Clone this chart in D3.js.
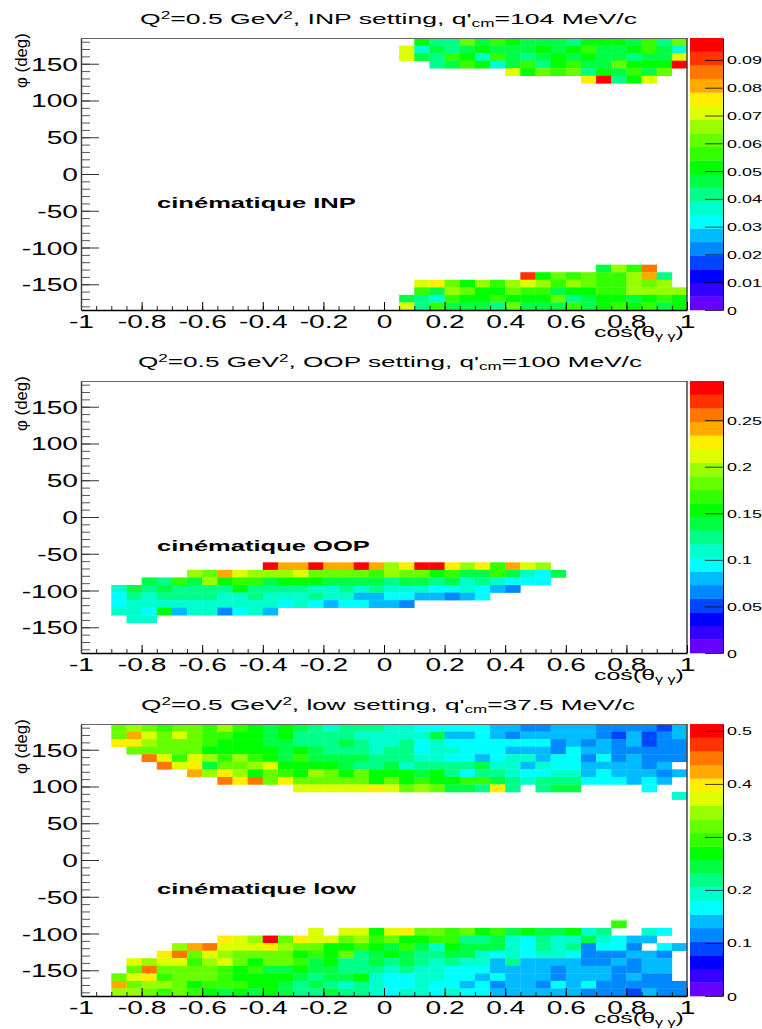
<!DOCTYPE html>
<html><head><meta charset="utf-8">
<script src="https://cdn.jsdelivr.net/npm/d3@7/dist/d3.min.js"></script>
<style>html,body{margin:0;padding:0;background:#fff}svg{display:block}text{font-family:"Liberation Sans",Arial,sans-serif;fill:#000}</style>
</head><body><svg id="c" width="762" height="1029"></svg>
<script>
// Colour bands of the z palette, lowest to highest
const palette = ["#6600ff","#3300ff","#0000ff","#0044ff","#0088ff","#00bbff","#00ffff","#00ffcc","#00ff88","#00ff44","#00ff00","#33ff00","#66ff00","#99ff00","#ddff00","#ffee00","#ffaa00","#ff7700","#ff3300","#ff0000"];
const _ = null;
const xTicks = [-1,-0.8,-0.6,-0.4,-0.2,0,0.2,0.4,0.6,0.8,1];
const xMinor = d3.range(-20,21).map(d=>d/20);
const yTicks = [-150,-100,-50,0,50,100,150];
const yMinor = d3.range(-18,19).map(d=>d*10);
const cosBins = 40, phiBins = 36;

// Rows: [phi bin from the top, first cos bin, z band per cell]
const inpRows = [
[0,22,[10,8,8,12,9,11,10,9,9,9,8,10,10,10,9,11,8,12]],
[1,21,[14,7,9,8,9,10,9,9,9,10,9,10,11,9,9,10,11,9,7]],
[2,21,[14,9,8,11,10,7,11,9,8,9,10,9,10,9,9,8,9,9,14]],
[3,23,[8,9,11,10,7,9,11,8,10,11,9,9,12,10,10,10,19]],
[4,28,[14,10,12,11,12,8,10,9,11,9,12]],
[5,33,[15,19,8,10,14]],
[30,34,[9,13,11,17]],
[31,29,[18,10,12,11,12,11,11,13,16,8]],
[32,22,[14,15,12,10,13,11,13,14,13,11,13,12,11,11,13,12,13]],
[33,22,[11,9,13,12,10,10,12,11,11,9,10,10,11,11,13,13,13,13]],
[34,21,[9,8,7,11,10,10,11,10,10,10,12,8,9,10,10,9,10,11,10]],
[35,21,[14,8,11,9,9,9,8,12,9,9,9,11,9,10,11,10,11,9,10]]
];
const oopRows = [
[24,12,[19,16,16,19,16,16,19,16,13,15,19,19,15,13,15,11,16,14,13]],
[25,7,[13,12,16,14,13,13,13,14,12,12,12,12,11,13,12,12,10,11,9,9,11,9,7,6,9]],
[26,4,[9,8,11,9,13,10,11,11,9,10,10,10,9,9,9,9,8,9,9,8,9,7,8,7,6,6,6]],
[27,2,[7,9,8,9,8,8,8,8,10,8,8,8,8,7,7,8,7,8,7,7,7,6,6,7,6,5,4]],
[28,2,[6,8,7,8,8,8,8,7,7,8,7,7,7,8,7,7,5,5,6,6,5,5,4,5,6]],
[29,2,[6,7,7,7,7,7,7,7,7,7,7,6,7,6,5,6,6,5,5,4]],
[30,2,[7,7,6,10,5,7,7,4,6,7,5]],
[31,3,[7,7]]
];
const lowRows = [
[0,2,[12,13,12,11,12,12,11,13,11,10,9,10,9,8,7,8,8,8,7,7,6,6,6,6,6,5,5,4,4,5,5,5,4,4,4,4,3,5]],
[1,2,[12,16,14,12,14,12,11,11,10,10,9,10,8,8,8,8,7,7,7,7,7,9,5,5,6,5,4,5,5,5,5,5,4,3,5,3,4,5]],
[2,2,[15,15,13,12,12,12,11,10,10,10,9,9,8,8,8,9,8,7,7,8,6,7,6,6,6,6,6,6,6,4,5,4,5,4,5,3,4,4]],
[3,3,[12,12,12,12,12,10,10,10,10,10,9,10,9,8,8,8,7,8,8,6,7,7,6,6,6,5,5,5,4,6,5,5,4,4,4,4,4]],
[4,4,[17,14,11,14,13,11,13,11,10,9,11,9,9,9,9,8,8,8,7,7,6,6,5,6,7,7,5,6,6,4,6,4,5,4,4,4]],
[5,5,[17,14,15,9,12,12,13,14,10,10,10,10,9,8,8,9,7,8,8,8,8,9,7,7,5,7,6,6,5,5,5,5,4,5]],
[6,7,[16,13,15,13,10,12,11,10,13,12,10,12,10,10,10,9,10,8,6,8,8,7,6,6,7,7,5,6,5,5,5,4,5]],
[7,9,[17,15,17,12,15,12,12,12,12,12,10,12,10,11,10,10,11,11,9,8,7,8,8,8,6,6,6,5,6,5]],
[8,14,[14,14,14,14,14,15,14,12,13,12,9,9,8,15,8,_,8,9,9,_,_,_,_,6]],
[9,39,[7]],
[26,35,[11]],
[27,15,[14,_,14,14,10,14,15,12,12,11,12,10,11,9,10,9,9,10,7,8,_,_,7,6]],
[28,9,[15,14,13,19,12,15,14,14,12,13,11,12,10,10,11,11,8,8,9,7,6,8,7,7,9,7,6,5,5]],
[29,6,[13,16,17,14,14,14,15,13,12,12,10,10,11,10,9,11,9,7,10,9,9,9,7,6,8,7,8,4,6,6,4,_,6,5]],
[30,5,[15,17,12,14,13,12,12,12,12,10,11,10,12,8,9,10,9,8,8,9,9,7,6,7,6,7,7,6,4,4,4,5,5,4]],
[31,3,[14,13,14,14,11,13,14,12,10,12,12,11,9,10,8,8,9,8,9,8,7,8,7,7,5,8,5,5,5,5,4,4,5,4,5,5]],
[32,3,[12,17,12,12,12,12,11,10,11,9,9,10,9,9,8,8,8,7,8,7,7,6,6,6,5,5,5,5,4,5,5,5,4,4,5,5]],
[33,2,[12,14,15,11,12,12,12,11,10,10,10,10,9,8,9,9,10,7,6,6,7,7,6,6,5,6,5,5,5,4,5,5,5,4,5,4,4]],
[34,2,[16,12,13,13,12,10,11,11,11,10,10,9,8,9,8,7,8,7,6,6,7,6,6,5,6,4,5,5,4,6,5,6,4,4,4,4,4,4]],
[35,2,[13,13,12,11,12,11,10,9,10,9,10,9,8,8,9,8,8,7,6,7,7,6,7,6,6,5,5,5,5,5,5,4,4,4,3,5,4,4]]
];
const panelNames = ["INP","OOP","low"];
const momenta = ["104","100","37.5"];
const zMaxes = [0.0979,0.292,0.513];
const zTicks = [[0,0.01,0.02,0.03,0.04,0.05,0.06,0.07,0.08,0.09],[0,0.05,0.1,0.15,0.2,0.25],[0,0.1,0.2,0.3,0.4,0.5]];
const rowsByPanel = [inpRows,oopRows,lowRows];
const titleLayout = [{x:140,w:497},{x:138,w:504},{x:141,w:494}];
const noteWidths = [199,213,199];

const svg = d3.select("#c");
const left=81,right=687,plotH=272,stepY=343,firstTop=38;
const SX=1.6;

function fit(t,x,w){ // stretch a text horizontally to the measured width in the picture
  const L=t.node().getComputedTextLength();
  const y=+t.attr("data-y");
  t.attr("transform",`translate(${x},${y}) scale(${w/L},1)`);
}

panelNames.forEach((name,p)=>{
  const top=firstTop+p*stepY, bottom=top+plotH, zMax=zMaxes[p];
  const x=d3.scaleLinear().domain([-1,1]).range([left,right]);
  const y=d3.scaleLinear().domain([-185,185]).range([bottom,top]);
  const cosBand=d3.scaleBand().domain(d3.range(cosBins)).range([left,right]);
  const phiBand=d3.scaleBand().domain(d3.range(phiBins)).range([top,bottom]);
  const color=d3.scaleQuantize().domain([0,zMax]).range(palette);
  const g=svg.append("g");

  const cells=rowsByPanel[p].flatMap(([row,first,z])=>z.map((b,i)=>({row,col:first+i,b})).filter(d=>d.b!==null))
    .map(d=>({...d,value:(d.b+0.5)*zMax/palette.length}));
  g.selectAll("rect.cell").data(cells).join("rect").attr("class","cell")
    .attr("x",d=>cosBand(d.col)).attr("y",d=>phiBand(d.row))
    .attr("width",cosBand.bandwidth()+0.3).attr("height",phiBand.bandwidth()+0.3)
    .attr("fill",d=>color(d.value));

  // frame
  g.append("line").attr("x1",left).attr("x2",right).attr("y1",top+.5).attr("y2",top+.5).attr("stroke","#666").attr("stroke-width",1);
  g.append("line").attr("x1",right).attr("x2",right).attr("y1",top).attr("y2",bottom).attr("stroke","#444").attr("stroke-width",1.5);

  // minor ticks
  g.append("g").attr("transform",`translate(0,${bottom})`)
    .call(d3.axisBottom(x).tickValues(xMinor).tickSize(-4).tickFormat(""))
    .call(a=>a.select(".domain").remove()).selectAll("line").attr("stroke","#222");
  g.append("g").attr("transform",`translate(${left},0)`)
    .call(d3.axisLeft(y).tickValues(yMinor).tickSize(-9).tickFormat(""))
    .call(a=>a.select(".domain").remove()).selectAll("line").attr("stroke","#555");

  // major axes
  const ax=g.append("g").attr("transform",`translate(0,${bottom})`)
    .call(d3.axisBottom(x).tickValues(xTicks).tickSizeInner(-8).tickSizeOuter(0).tickPadding(0).tickFormat(d=>String(d)));
  ax.select(".domain").attr("stroke","#000").attr("stroke-width",1.5);
  ax.selectAll("text").attr("font-size",17.6).attr("text-anchor","middle").attr("dy",0).attr("y",0)
    .attr("transform",`translate(0,18) scale(${SX},1)`);
  const ay=g.append("g").attr("transform",`translate(${left},0)`)
    .call(d3.axisLeft(y).tickValues(yTicks).tickSizeInner(-18).tickSizeOuter(0).tickPadding(0).tickFormat(d=>String(d)));
  ay.select(".domain").attr("stroke","#444").attr("stroke-width",1.5);
  ay.selectAll("line").attr("stroke","#333");
  ay.selectAll("text").attr("font-size",17.6).attr("text-anchor","end").attr("dy",0).attr("x",0)
    .attr("transform",`translate(-3,6.5) scale(${SX},1)`);
  svg.selectAll(".tick text").style("font-family",'"Liberation Sans",Arial,sans-serif').style("fill","#000");

  // colour bar
  const zs=d3.scaleLinear().domain([0,zMax]).range([bottom,top]);
  g.selectAll("rect.band").data(palette).join("rect").attr("class","band")
    .attr("x",690).attr("width",33)
    .attr("y",(c,i)=>zs((i+1)*zMax/palette.length)).attr("height",plotH/palette.length+0.3)
    .attr("fill",c=>c);
  const az=g.append("g").attr("transform","translate(723,0)")
    .call(d3.axisRight(zs).tickValues(zTicks[p]).tickSizeInner(-18).tickSizeOuter(0).tickPadding(0).tickFormat(d=>String(d)));
  az.select(".domain").attr("stroke","#000").attr("stroke-width",1);
  az.selectAll("line").attr("stroke","#000").attr("stroke-opacity",.75);
  az.selectAll("text").attr("font-size",11.2).attr("text-anchor","start").attr("dy",0).attr("x",0)
    .attr("transform",`translate(4,4) scale(${SX},1)`)
    .style("font-family",'"Liberation Sans",Arial,sans-serif').style("fill","#000");

  // title
  const t=svg.append("text").attr("data-y",top-14).attr("font-size",15.4);
  t.append("tspan").text("Q");
  t.append("tspan").attr("dy",-5).attr("font-size",10).text("2");
  t.append("tspan").attr("dy",5).text("=0.5 GeV");
  t.append("tspan").attr("dy",-5).attr("font-size",10).text("2");
  t.append("tspan").attr("dy",5).text(`, ${name} setting, q'`);
  t.append("tspan").attr("dy",3).attr("font-size",10).text("cm");
  t.append("tspan").attr("dy",-3).text(`=${momenta[p]} MeV/c`);
  fit(t,titleLayout[p].x,titleLayout[p].w);

  // x title
  const xt=svg.append("text").attr("data-y",bottom+27).attr("font-size",15.5);
  xt.append("tspan").text("cos(θ");
  xt.append("tspan").attr("dy",3).attr("font-size",10).text("γ γ");
  xt.append("tspan").attr("dy",-3).text(")");
  fit(xt,594,90);

  // y title
  svg.append("text").attr("transform",`translate(27,${top+50}) rotate(-90)`).attr("font-size",16.8).text("φ (deg)");

  // note
  const n=svg.append("text").attr("data-y",top+170).attr("font-size",15).attr("font-weight","bold").text(`cinématique ${name}`);
  fit(n,157,noteWidths[p]);
});
</script></body></html>
